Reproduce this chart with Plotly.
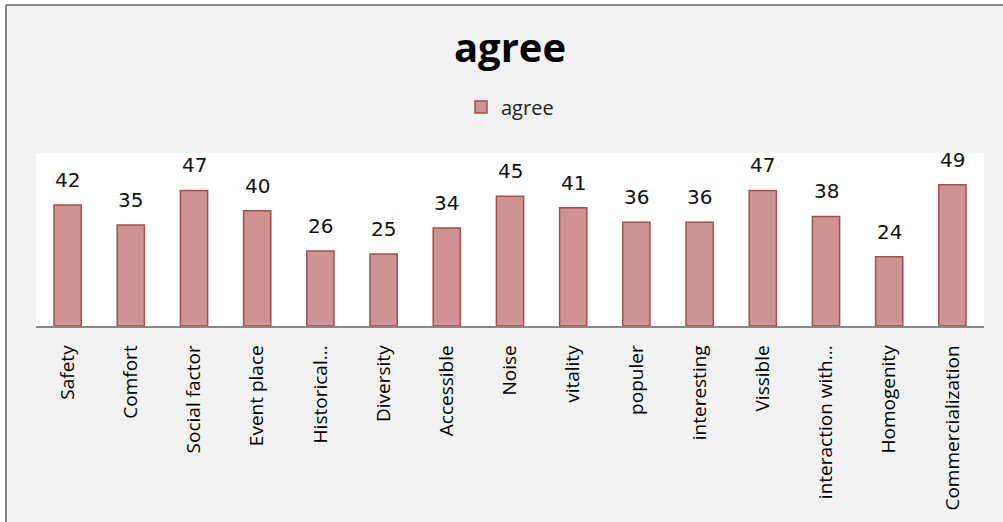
import plotly.graph_objects as go

categories = ["Safety", "Comfort", "Social factor", "Event place", "Historical...",
              "Diversity", "Accessible", "Noise", "vitality", "populer",
              "interesting", "Vissible", "interaction with...", "Homogenity",
              "Commercialization"]
agree = [42, 35, 47, 40, 26, 25, 34, 45, 41, 36, 36, 47, 38, 24, 49]

W, H = 1003, 522
L, R, T, B = 36, 19, 153, 196
pw, ph = W - L - R, H - T - B

fig = go.Figure()
fig.add_trace(go.Bar(
    x=categories, y=agree, name="agree",
    marker=dict(color="#d09393", line=dict(color="#a0504f", width=1.5)),
))

for c, v in zip(categories, agree):
    fig.add_annotation(x=c, y=v, text=str(v), showarrow=False,
                       yanchor="bottom", yshift=11,
                       font=dict(family="DejaVu Sans", size=20, color="#111111"))

def px_x(p):
    return (p - L) / pw

def px_y(p):
    return (H - B - p) / ph

shapes = [
    dict(type="rect", xref="paper", yref="paper", x0=px_x(-5), x1=px_x(6),
         y0=px_y(H + 5), y1=px_y(-5), fillcolor="white", line=dict(width=0)),
    dict(type="rect", xref="paper", yref="paper", x0=px_x(-5), x1=px_x(W + 5),
         y0=px_y(5), y1=px_y(-5), fillcolor="white", line=dict(width=0)),
    dict(type="line", xref="paper", yref="paper", x0=px_x(6), x1=px_x(6),
         y0=px_y(H + 5), y1=px_y(5), line=dict(color="#888888", width=2)),
    dict(type="line", xref="paper", yref="paper", x0=px_x(6), x1=px_x(W + 5),
         y0=px_y(5), y1=px_y(5), line=dict(color="#888888", width=2)),
]

fig.update_layout(
    width=W, height=H,
    margin=dict(l=L, r=R, t=T, b=B),
    paper_bgcolor="#f2f2f2", plot_bgcolor="white",
    title=dict(text="<b>agree</b>", x=0.5, xref="paper", xanchor="center",
               y=1 - 48 / H, yanchor="middle",
               font=dict(family="Open Sans", size=40, color="black")),
    showlegend=True,
    legend=dict(orientation="h", x=0.5, xanchor="center", y=px_y(107),
                yanchor="middle", bgcolor="rgba(0,0,0,0)",
                font=dict(family="Open Sans", size=20, color="#222222")),
    bargap=0.57,
    shapes=shapes,
    xaxis=dict(showline=True, linecolor="#888888", linewidth=1.5,
               tickangle=-90, ticks="", ticklabelstandoff=10,
               tickfont=dict(family="Open Sans", size=19, color="black"),
               showgrid=False),
    yaxis=dict(range=[0, 60], visible=False, showgrid=False),
)

fig.write_html("out.html", config={"displayModeBar": False},
               post_script="document.body.style.margin='0px';document.body.style.overflow='hidden';")
